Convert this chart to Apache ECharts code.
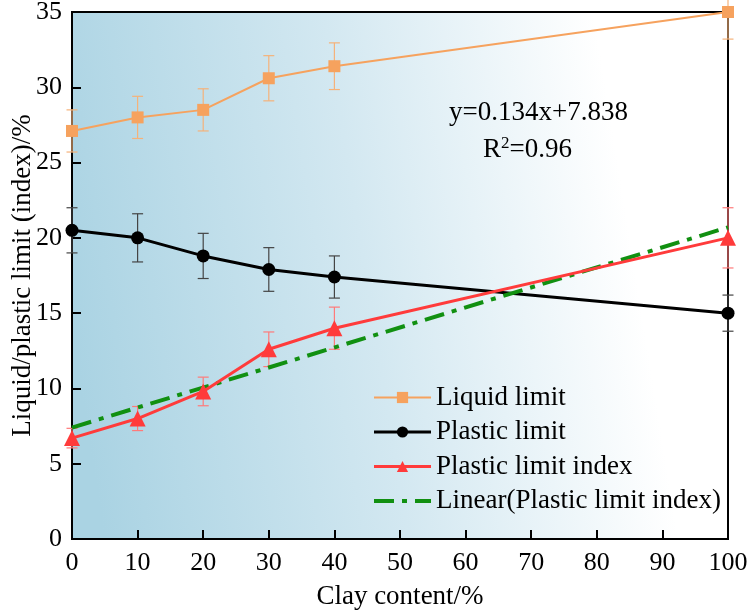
<!DOCTYPE html>
<html>
<head>
<meta charset="utf-8">
<script src="https://cdn.jsdelivr.net/npm/echarts@6/dist/echarts.min.js"></script>
<style>
html, body { margin: 0; padding: 0; background: #fff; }
#main { width: 750px; height: 613px; }
</style>
</head>
<body>
<div id="main"></div>
<script>
// 粘土含量 / %
var clay = [0, 10, 20, 30, 40, 100];
// 液限
var liquidLimit = [27.1, 28.0, 28.5, 30.6, 31.4, 35.0];
var liquidErr = [1.4, 1.4, 1.4, 1.5, 1.55, 1.8];
// 塑限
var plasticLimit = [20.5, 20.0, 18.8, 17.9, 17.4, 15.0];
var plasticErr = [1.5, 1.6, 1.5, 1.45, 1.4, 1.2];
// 塑性指数
var plasticIndex = [6.7, 8.0, 9.8, 12.6, 14.0, 20.0];
var indexErr = [0.65, 0.8, 0.95, 1.15, 1.4, 2.0];
// 线性拟合
var fitX = [0, 100];
var fitY = [7.4, 20.7];

var xTicks = [0, 10, 20, 30, 40, 50, 60, 70, 80, 90, 100];
var yTicks = [0, 5, 10, 15, 20, 25, 30, 35];

var FONT = 'Liberation Serif';

function pairs(xs, ys){
	var out = [];
	for (var i = 0; i < xs.length; i++) out.push([xs[i], ys[i]]);
	return out;
}

function errData(xs, ys, es){
	var out = [];
	for (var i = 0; i < xs.length; i++) out.push([xs[i], ys[i] - es[i], ys[i] + es[i]]);
	return out;
}

/**
 * 误差棒
 */
function errSeries(name, data, color){
	return {
		name: name,
		type: 'custom',
		z: 1,
		data: data,
		encode: { x: 0, y: [1, 2] },
		renderItem: function(params, api){
			var x = api.value(0);
			var lo = api.coord([x, api.value(1)]);
			var hi = api.coord([x, api.value(2)]);
			var w = 5.5;
			var st = { stroke: color, lineWidth: 1.2 };
			return {
				type: 'group',
				children: [
					{ type: 'line', shape: { x1: lo[0], y1: lo[1], x2: hi[0], y2: hi[1] }, style: st },
					{ type: 'line', shape: { x1: lo[0] - w, y1: lo[1], x2: lo[0] + w, y2: lo[1] }, style: st },
					{ type: 'line', shape: { x1: hi[0] - w, y1: hi[1], x2: hi[0] + w, y2: hi[1] }, style: st }
				]
			};
		}
	};
}

var myChart = echarts.init(document.getElementById('main'));
var option = {
	animation: false,
	textStyle: { fontFamily: FONT },
	grid: {
		left: 72,
		right: 22,
		top: 12,
		bottom: 74,
		outerBoundsMode: 'none',
		containLabel: false,
		show: true,
		borderColor: '#000',
		borderWidth: 2,
		backgroundColor: new echarts.graphic.LinearGradient(0, 0.6, 1, 0.4, [
			{ offset: 0, color: '#aad3e3' },
			{ offset: 0.45, color: '#d3e8f1' },
			{ offset: 0.85, color: '#ffffff' },
			{ offset: 1, color: '#ffffff' }
		])
	},
	legend: {
		orient: 'vertical',
		left: 367,
		top: 379,
		itemWidth: 57,
		itemHeight: 14,
		itemGap: 7.5,
		data: [
			{ name: 'Liquid limit', lineStyle: { width: 2 } },
			{ name: 'Plastic limit', lineStyle: { width: 3 } },
			{ name: 'Plastic limit index', lineStyle: { width: 3 } },
			{ name: 'Linear(Plastic limit index)', lineStyle: { width: 4 }, itemStyle: { opacity: 0 } }
		],
		textStyle: { fontFamily: FONT, fontSize: 27, color: '#000', lineHeight: 27 }
	},
	graphic: [
		{
			type: 'text',
			left: 449,
			top: 99,
			style: { text: 'y=0.134x+7.838', font: '27px "Liberation Serif"', fill: '#000' }
		},
		{
			type: 'text',
			left: 483,
			top: 135,
			style: {
				text: '{a|R}{s|2}{a|=0.96}',
				rich: {
					a: { fontFamily: FONT, fontSize: 27, fill: '#000', verticalAlign: 'bottom' },
					s: { fontFamily: FONT, fontSize: 17, fill: '#000', verticalAlign: 'top', padding: [0, 0, 11, 0] }
				}
			}
		}
	],
	xAxis: {
		type: 'value',
		min: 0,
		max: 100,
		interval: 10,
		name: 'Clay content/%',
		nameLocation: 'middle',
		nameGap: 44,
		nameMoveOverlap: false,
		nameTextStyle: { fontFamily: FONT, fontSize: 27, color: '#000' },
		axisLine: { lineStyle: { color: '#000', width: 2 } },
		axisTick: { inside: true, length: 9, lineStyle: { color: '#000', width: 2 } },
		axisLabel: {
			fontFamily: FONT, fontSize: 26, color: '#000', margin: 11,
			formatter: function(v){ return xTicks.indexOf(v) >= 0 ? String(v) : ''; }
		},
		splitLine: { show: false }
	},
	yAxis: {
		type: 'value',
		min: 0,
		max: 35,
		interval: 5,
		name: 'Liquid/plastic limit (index)/%',
		nameLocation: 'middle',
		nameGap: 36,
		nameMoveOverlap: false,
		nameTextStyle: { fontFamily: FONT, fontSize: 27, color: '#000' },
		axisLine: { lineStyle: { color: '#000', width: 2 } },
		axisTick: { inside: true, length: 9, lineStyle: { color: '#000', width: 2 } },
		axisLabel: {
			fontFamily: FONT, fontSize: 26, color: '#000', margin: 10,
			formatter: function(v){ return yTicks.indexOf(v) >= 0 ? String(v) : ''; }
		},
		splitLine: { show: false }
	},
	series: [
		errSeries('errLiquid', errData(clay, liquidLimit, liquidErr), '#f5b27a'),
		errSeries('errPlastic', errData(clay, plasticLimit, plasticErr), '#444444'),
		errSeries('errIndex', errData(clay, plasticIndex, indexErr), '#ff7a7a'),
		{
			name: 'Liquid limit',
			type: 'line',
			z: 3,
			data: pairs(clay, liquidLimit),
			symbol: 'rect',
			symbolSize: 12,
			color: '#f6a25e',
			lineStyle: { color: '#f6a25e', width: 2 },
			itemStyle: { color: '#f6a25e' }
		},
		{
			name: 'Plastic limit',
			type: 'line',
			z: 3,
			data: pairs(clay, plasticLimit),
			symbol: 'circle',
			symbolSize: 13,
			color: '#000',
			lineStyle: { color: '#000', width: 3 },
			itemStyle: { color: '#000' }
		},
		{
			name: 'Plastic limit index',
			type: 'line',
			z: 4,
			data: pairs(clay, plasticIndex),
			symbol: 'triangle',
			symbolSize: 16,
			color: '#ff3b3b',
			lineStyle: { color: '#ff3b3b', width: 3 },
			itemStyle: { color: '#ff3b3b' }
		},
		{
			name: 'Linear(Plastic limit index)',
			type: 'line',
			z: 3,
			data: pairs(fitX, fitY),
			symbol: 'none',
			color: '#119011',
			lineStyle: { color: '#119011', width: 4, type: [20, 8, 5, 8] }
		}
	]
};
myChart.setOption(option);
</script>
</body>
</html>
